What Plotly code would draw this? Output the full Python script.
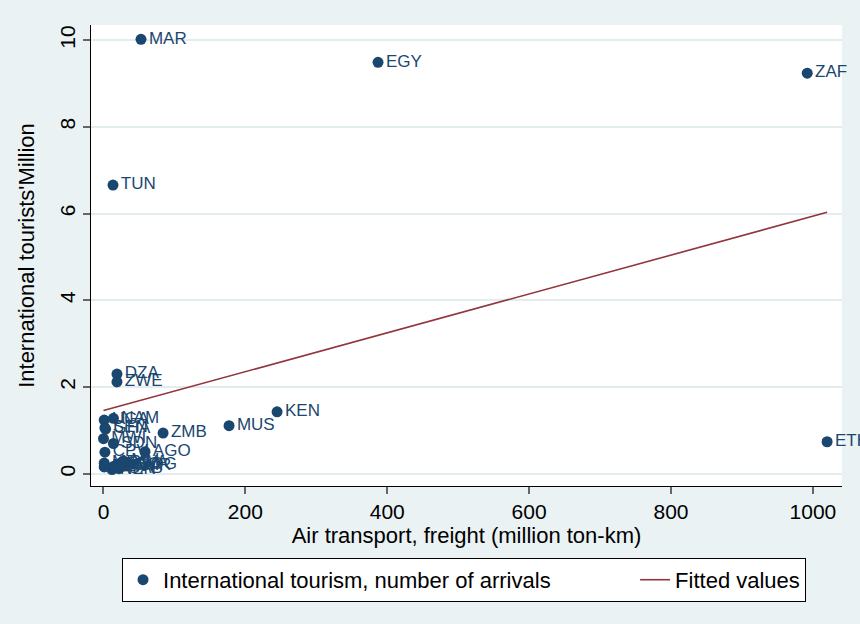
import plotly.graph_objects as go

# ---- data ----
codes = ["MAR", "EGY", "ZAF", "TUN", "DZA", "ZWE", "KEN", "MUS", "ZMB", "ETH", "AGO",
         "UGA", "NAM", "SEN", "GHA", "MWI", "SDN", "CPV",
         "MDG", "BEN", "TGO", "RWA", "CMR", "COG", "GAB", "NER", "MLI", "BFA"]
freight = [52.9, 387, 992, 13.4, 19, 19, 244.7, 177, 84, 1020, 58.5,
           1, 14, 2, 3, 0, 14, 2,
           1, 1, 18, 25, 30, 38, 22, 12, 28, 14]
arrivals = [10.02, 9.49, 9.24, 6.66, 2.30, 2.12, 1.43, 1.11, 0.94, 0.74, 0.51,
            1.24, 1.28, 1.06, 1.03, 0.81, 0.70, 0.50,
            0.25, 0.16, 0.20, 0.26, 0.18, 0.22, 0.12, 0.10, 0.30, 0.17]
fit_x = [0, 1020]
fit_y = [1.46, 6.03]

x_ticks = [0, 200, 400, 600, 800, 1000]
y_ticks = [0, 2, 4, 6, 8, 10]

NAVY = "#1A476F"
MAROON = "#90353B"
BG = "#EAF2F3"
FONT = "Liberation Sans, Arial, sans-serif"

fig = go.Figure()
fig.add_trace(go.Scatter(
    x=freight, y=arrivals, mode="markers+text", text=codes,
    textposition="middle right", cliponaxis=False,
    textfont=dict(color=NAVY, size=17, family=FONT),
    marker=dict(color=NAVY, size=11, line=dict(width=0)),
    name="International tourism, number of arrivals" + "\u00a0" * 13,
))
fig.add_trace(go.Scatter(
    x=fit_x, y=fit_y, mode="lines", cliponaxis=False,
    line=dict(color=MAROON, width=1.6),
    name="Fitted values",
))

fig.update_layout(
    width=860, height=624,
    margin=dict(l=91, r=18, t=25, b=138),
    paper_bgcolor=BG, plot_bgcolor="white",
    font=dict(family=FONT, size=21, color="black"),
    showlegend=True,
    legend=dict(orientation="h", x=0.4967, xanchor="center", y=-0.156, yanchor="top",
                bgcolor="white", bordercolor="black", borderwidth=1,
                font=dict(size=22, family=FONT, color="black"),
                tracegroupgap=0),
)
fig.update_xaxes(
    range=[-17.6, 1041], tickvals=x_ticks, showgrid=False, zeroline=False,
    showline=True, linecolor="black", linewidth=1,
    ticks="outside", ticklen=7, tickcolor="#666", tickwidth=1.5,
    tickfont=dict(size=21),
    title=dict(text="Air transport, freight (million ton-km)", font=dict(size=22), standoff=0),
)
fig.update_yaxes(
    range=[-0.28, 10.35], tickvals=y_ticks, showgrid=True, gridcolor="#E3EDEF", gridwidth=1.5,
    zeroline=False, showline=True, linecolor="black", linewidth=1,
    ticks="outside", ticklen=7, tickcolor="#666", tickwidth=1.5,
    tickangle=-90, tickfont=dict(size=21),
    title=dict(text="International tourists'Million", font=dict(size=22), standoff=14),
)

fig.write_html("out.html")
